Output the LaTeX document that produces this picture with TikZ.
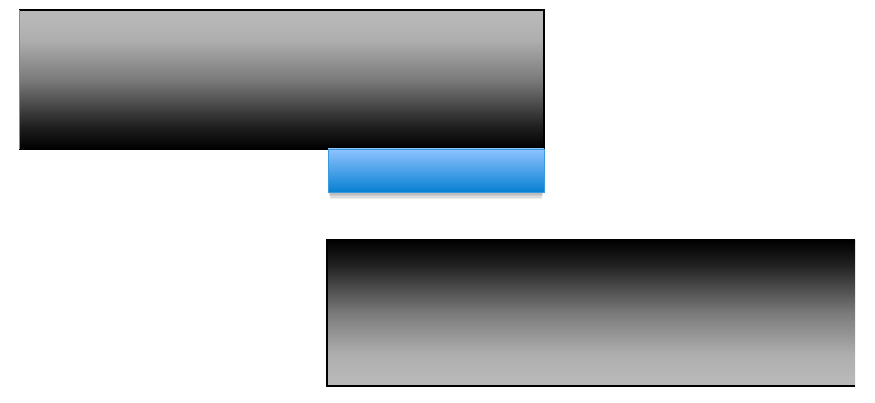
\documentclass[tikz,border=0pt]{standalone}
\usetikzlibrary{shadows}
\definecolor{barlight}{HTML}{B7B7B7}
\definecolor{bluetop}{HTML}{8EC3FF}
\definecolor{bluebot}{HTML}{0880D2}
\pgfdeclareverticalshading{darkbelow}{100bp}{color(0bp)=(black); color(25bp)=(black);
  color(33bp)=(black!88); color(50bp)=(black!52); color(64bp)=(black!32); color(72bp)=(black!28); color(100bp)=(black!28)}
\pgfdeclareverticalshading{darkabove}{100bp}{color(0bp)=(black!28); color(28bp)=(black!28);
  color(36bp)=(black!32); color(50bp)=(black!52); color(67bp)=(black!88); color(75bp)=(black); color(100bp)=(black)}
\tikzset{
  bardown/.style={shading=darkbelow},
  barup/.style={shading=darkabove},
  rim/.style={draw=black,line width=1.5pt},
  slot/.style={draw=bluebot!80,line width=0.5pt,top color=bluetop,bottom color=bluebot},
  haze/.style={fill=black,opacity=0.07}
}
\begin{document}
\begin{tikzpicture}[x=1pt,y=1pt]
  \useasboundingbox (0,0) rectangle (875,402);
  % upper bar
  \shade[bardown] (19,253) rectangle (544,392);
  \draw[rim] (19,392) -- (544,392) -- (544,253) -- (19,253);
  \draw[black!45,line width=0.8pt] (19,253) -- (19,392);
  % shadow under the blue part
  \foreach \d in {1,2,...,5}
    \fill[haze] (328+\d*0.4,210-\d*1.4) rectangle (544-\d*0.4,240);
  \draw[slot] (328,210) rectangle (544,253);
  % lower bar
  \shade[barup] (327,16) rectangle (855,162);
  \draw[rim] (855,162) -- (327,162) -- (327,16) -- (855,16);
\end{tikzpicture}
\end{document}
